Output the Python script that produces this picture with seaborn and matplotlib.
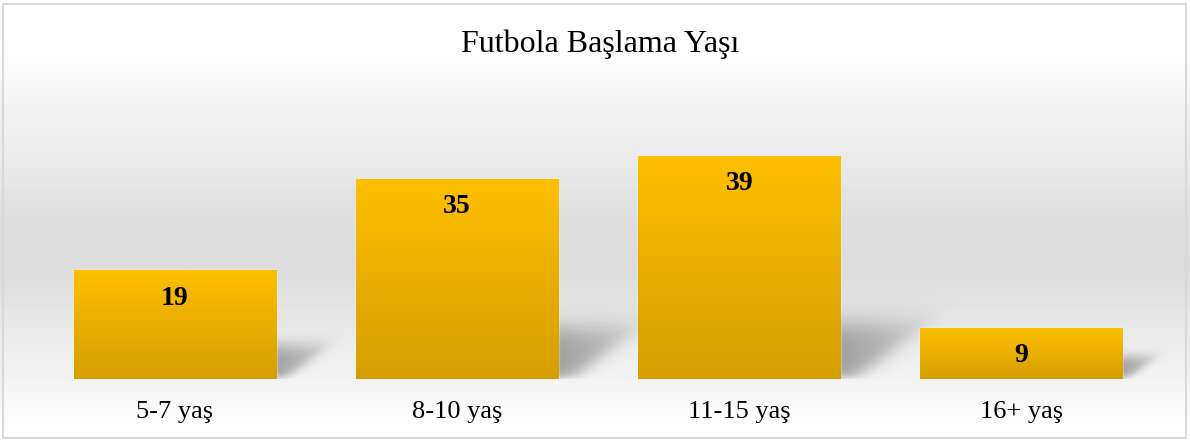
import numpy as np
import pandas as pd
import matplotlib.pyplot as plt
import seaborn as sns
from matplotlib.colors import LinearSegmentedColormap
from matplotlib.patches import Rectangle

# Data
categories = ["5-7 yaş", "8-10 yaş", "11-15 yaş", "16+ yaş"]
values = [19, 35, 39, 9]
title = "Futbola Başlama Yaşı"

df = pd.DataFrame({"grup": categories, "sayi": values})

sns.set_theme(style="white")
plt.rcParams["font.family"] = ["Liberation Serif", "DejaVu Serif"]

fig = plt.figure(figsize=(11.9, 4.41), dpi=100)
W, H = 1190, 441

# background gradient (white -> grey -> white), whole figure
bg_ax = fig.add_axes([0, 0, 1, 1], zorder=-10)
rows = np.linspace(0, 1, 441)
shade = np.interp(rows, [0.0, 0.12, 0.5, 0.62, 0.8, 0.95, 1.0],
                  [1.0, 0.995, 0.87, 0.865, 0.93, 0.99, 1.0])
bg = np.repeat(shade[:, None], 10, axis=1)
bg_ax.imshow(bg, cmap="gray", vmin=0, vmax=1, aspect="auto", extent=[0, 1, 0, 1])
bg_ax.add_patch(Rectangle((3 / W, 3 / H), 1 - 7 / W, 1 - 7 / H, fill=False,
                          edgecolor="#d9d9d9", linewidth=1.5, transform=bg_ax.transAxes))
bg_ax.set_xlim(0, 1)
bg_ax.set_ylim(0, 1)
bg_ax.axis("off")

# main axes placed to match bar positions
left, right = 34, 1162.5
px_per_unit = 5.72
bottom_px, top_px = 379, 379 - 45 * px_per_unit
ax = fig.add_axes([left / W, (H - bottom_px) / H, (right - left) / W,
                   (bottom_px - top_px) / H])
ax.patch.set_alpha(0)

sns.barplot(data=df, x="grup", y="sayi", ax=ax, width=0.716, color="#FFC000",
            saturation=1, zorder=3)
ax.set_ylim(0, 45)
ax.set_xlim(-0.5, 3.5)

gold = LinearSegmentedColormap.from_list("gold", ["#D49F00", "#E8AE00", "#FFC000"])
grad = np.linspace(0, 1, 256)[:, None]

px_x = (right - left) / 4.0
sig = lambda z: 1 / (1 + np.exp(-z))


def shadow_image(L):
    # soft perspective shadow of height L px, in pixel grid
    su, sv = np.meshgrid(np.arange(-4, int(3 * L) + 20), np.arange(0, int(1.8 * L) + 20)[::-1])
    blur = max(L / 7, 3)
    a = (sig((0.3 * L + 1.25 * sv - su) / blur) * sig((1.0 * L - sv) / blur)
         * sig((su + 1.5) / 1.2) * sig((sv - 1) / 2.5)
         * np.exp(-np.clip(su, 0, None) / (3 * L)) * 0.34)
    img = np.zeros(su.shape + (4,))
    img[..., 3] = a
    return img, su.shape


for p, v in zip(ax.patches, values):
    x0, w, h = p.get_x(), p.get_width(), p.get_height()
    xr = x0 + w
    L = 12 + 0.19 * h * px_per_unit
    img, (ny, nx) = shadow_image(L)
    sh = ax.imshow(img, aspect="auto", origin="upper", zorder=1,
                   extent=[xr - 4 / px_x, xr + (nx - 4) / px_x, 0, ny / px_per_unit])
    sh.set_clip_on(False)
    p.set_facecolor("none")
    im = ax.imshow(grad, cmap=gold, aspect="auto", origin="lower",
                   extent=[x0, xr, 0, h], zorder=3)
    im.set_clip_path(p)
    ax.annotate(f"{v}", (x0 + w / 2, h), xytext=(0, -20), textcoords="offset points",
                ha="center", va="center", fontsize=20, fontweight="bold",
                color="black", zorder=5)

ax.set_xlim(-0.5, 3.5)
ax.set_ylim(0, 45)
ax.set_xlabel("")
ax.set_ylabel("")
ax.set_yticks([])
ax.tick_params(axis="x", length=0, pad=16, labelsize=19, colors="black")
sns.despine(ax=ax, left=True, bottom=True)

fig.text(600 / W, 1 - 44 / H, title, ha="center", va="center", fontsize=23,
         color="black")

fig.savefig("out.png", dpi=100)
